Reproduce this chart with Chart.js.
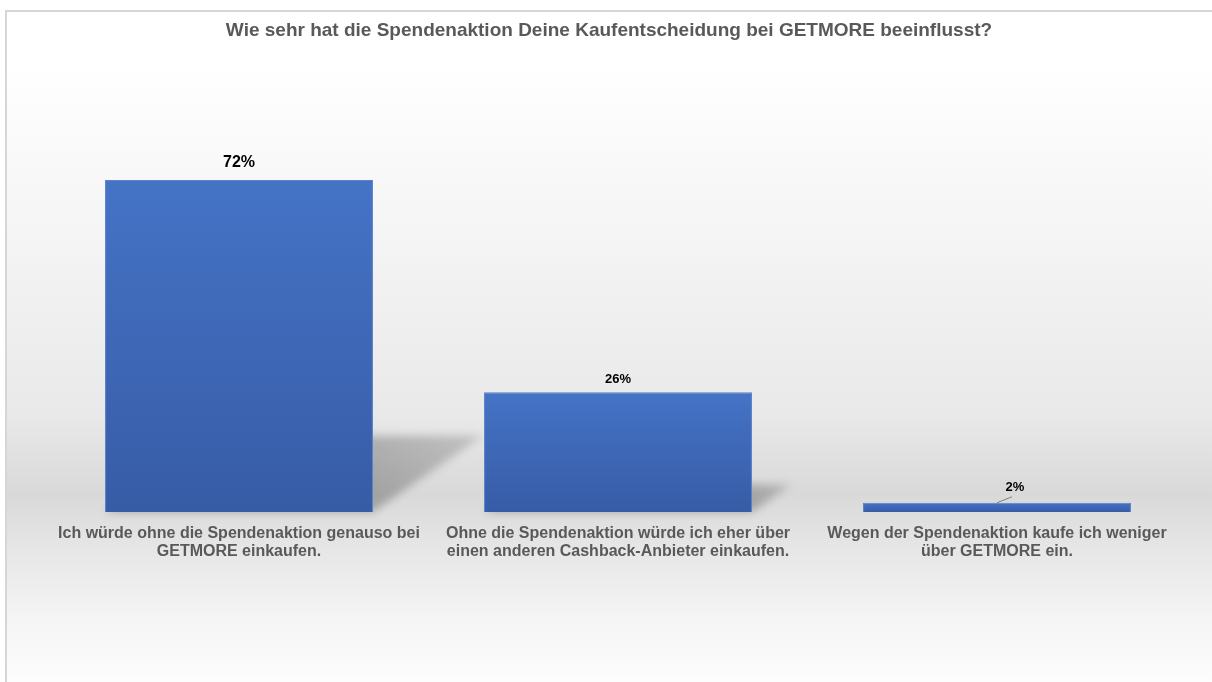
<!DOCTYPE html>
<html>
<head>
<meta charset="utf-8">
<script src="https://cdn.jsdelivr.net/npm/chart.js@4/dist/chart.umd.min.js"></script>
<style>
  html, body { margin: 0; padding: 0; background: #fff; }
  #wrap { width: 1212px; height: 682px; }
</style>
</head>
<body>
<div id="wrap"><canvas id="chart" width="1212" height="682"></canvas></div>
<script>
const chartTitle = 'Wie sehr hat die Spendenaktion Deine Kaufentscheidung bei GETMORE beeinflusst?';

const categories = [
  ['Ich würde ohne die Spendenaktion genauso bei', 'GETMORE einkaufen.'],
  ['Ohne die Spendenaktion würde ich eher über', 'einen anderen Cashback-Anbieter einkaufen.'],
  ['Wegen der Spendenaktion kaufe ich weniger', 'über GETMORE ein.']
];

const shares = [72, 26, 2];

const FONT = '"Liberation Sans", Arial, sans-serif';

// page background: light grey band behind the floor of the bars, plus title
const backdrop = {
  id: 'backdrop',
  beforeDraw(chart) {
    const ctx = chart.ctx;
    const w = chart.width, h = chart.height;
    ctx.save();
    ctx.fillStyle = '#ffffff';
    ctx.fillRect(0, 0, w, h);
    let g = ctx.createLinearGradient(0, 11, 0, h);
    g.addColorStop(0, '#ffffff');
    g.addColorStop(0.08, '#ffffff');
    g.addColorStop(0.35, '#f4f4f4');
    g.addColorStop(0.6, '#e9e9e9');
    g.addColorStop(0.72, '#d9d9d9');
    g.addColorStop(0.8, '#e6e6e6');
    g.addColorStop(0.9, '#f4f4f4');
    g.addColorStop(1, '#fdfdfd');
    ctx.fillStyle = g;
    ctx.fillRect(6, 11, w - 6, h - 11);
    ctx.strokeStyle = '#d6d6d6';
    ctx.lineWidth = 2;
    ctx.beginPath();
    ctx.moveTo(6, h);
    ctx.lineTo(6, 11);
    ctx.lineTo(w, 11);
    ctx.stroke();

    // title, centred on the framed area
    ctx.fillStyle = '#595959';
    ctx.font = 'bold 19px ' + FONT;
    ctx.textAlign = 'center';
    ctx.textBaseline = 'middle';
    ctx.fillText(chartTitle, (6 + w) / 2, 31);
    ctx.restore();
  }
};

// perspective shadow thrown to the right of each bar
const barShadow = {
  id: 'barShadow',
  beforeDatasetsDraw(chart) {
    const ctx = chart.ctx;
    const bars = chart.getDatasetMeta(0).data;
    ctx.save();
    ctx.filter = 'blur(4px)';
    bars.forEach(bar => {
      const h = bar.base - bar.y;
      if (h < 20) return;
      const left = bar.x - bar.width / 2;
      const right = bar.x + bar.width / 2;
      const dx = h * 0.33, dy = h * 0.23;
      let g = ctx.createLinearGradient(right, bar.base, right + dx, bar.base - dy);
      g.addColorStop(0, 'rgba(0,0,0,0.26)');
      g.addColorStop(1, 'rgba(0,0,0,0.15)');
      ctx.fillStyle = g;
      ctx.beginPath();
      ctx.moveTo(left, bar.base);
      ctx.lineTo(right, bar.base);
      ctx.lineTo(right + dx, bar.base - dy);
      ctx.lineTo(left + dx, bar.base - dy);
      ctx.closePath();
      ctx.fill();
    });
    ctx.restore();
  }
};

// percentage labels above the bars
const valueLabels = {
  id: 'valueLabels',
  afterDatasetsDraw(chart) {
    const ctx = chart.ctx;
    const bars = chart.getDatasetMeta(0).data;
    ctx.save();
    ctx.textAlign = 'center';
    ctx.textBaseline = 'middle';
    ctx.fillStyle = '#000000';
    bars.forEach((bar, i) => {
      const h = bar.base - bar.y;
      const text = shares[i] + '%';
      if (h > 200) {
        ctx.font = 'bold 16px ' + FONT;
        ctx.fillText(text, bar.x, bar.y - 17);
      } else if (h > 20) {
        ctx.font = 'bold 13px ' + FONT;
        ctx.fillText(text, bar.x, bar.y - 13);
      } else {
        // too thin: label shifted up-right with a leader line
        ctx.font = 'bold 13px ' + FONT;
        ctx.fillText(text, bar.x + 18, bar.y - 15);
        ctx.strokeStyle = '#7f7f7f';
        ctx.lineWidth = 1;
        ctx.beginPath();
        ctx.moveTo(bar.x, bar.y);
        ctx.lineTo(bar.x + 15, bar.y - 6);
        ctx.stroke();
      }
    });
    ctx.restore();
  }
};

function barFill(context) {
  const chart = context.chart;
  if (!chart.chartArea) return '#4472C4';
  const y = chart.scales.y.getPixelForValue(context.raw);
  const base = chart.scales.y.getPixelForValue(0);
  const g = chart.ctx.createLinearGradient(0, y, 0, base);
  g.addColorStop(0, '#4573c6');
  g.addColorStop(1, '#375ca6');
  return g;
}

const data = {
  labels: categories,
  datasets: [
    {
      label: 'Anteil',
      data: shares,
      backgroundColor: barFill,
      borderColor: '#5a80c9',
      borderWidth: 1,
      categoryPercentage: 0.707,
      barPercentage: 1
    }
  ]
};

const config = {
  type: 'bar',
  data: data,
  options: {
    responsive: false,
    animation: false,
    layout: {
      padding: { left: 49.5, right: 25.5, top: 51, bottom: 0 }
    },
    plugins: {
      legend: { display: false },
      tooltip: { enabled: false },
      title: { display: false }
    },
    scales: {
      x: {
        grid: { display: false },
        border: { display: false },
        ticks: {
          color: '#595959',
          font: { family: FONT, size: 16, weight: 'bold', lineHeight: 1.15 },
          padding: 4,
          maxRotation: 0,
          autoSkip: false
        },
        afterFit(scale) { scale.height = 170; }
      },
      y: {
        display: false,
        min: 0,
        max: 100
      }
    }
  },
  plugins: [backdrop, barShadow, valueLabels]
};

var chart = new Chart(document.getElementById('chart'), config);
</script>
</body>
</html>
